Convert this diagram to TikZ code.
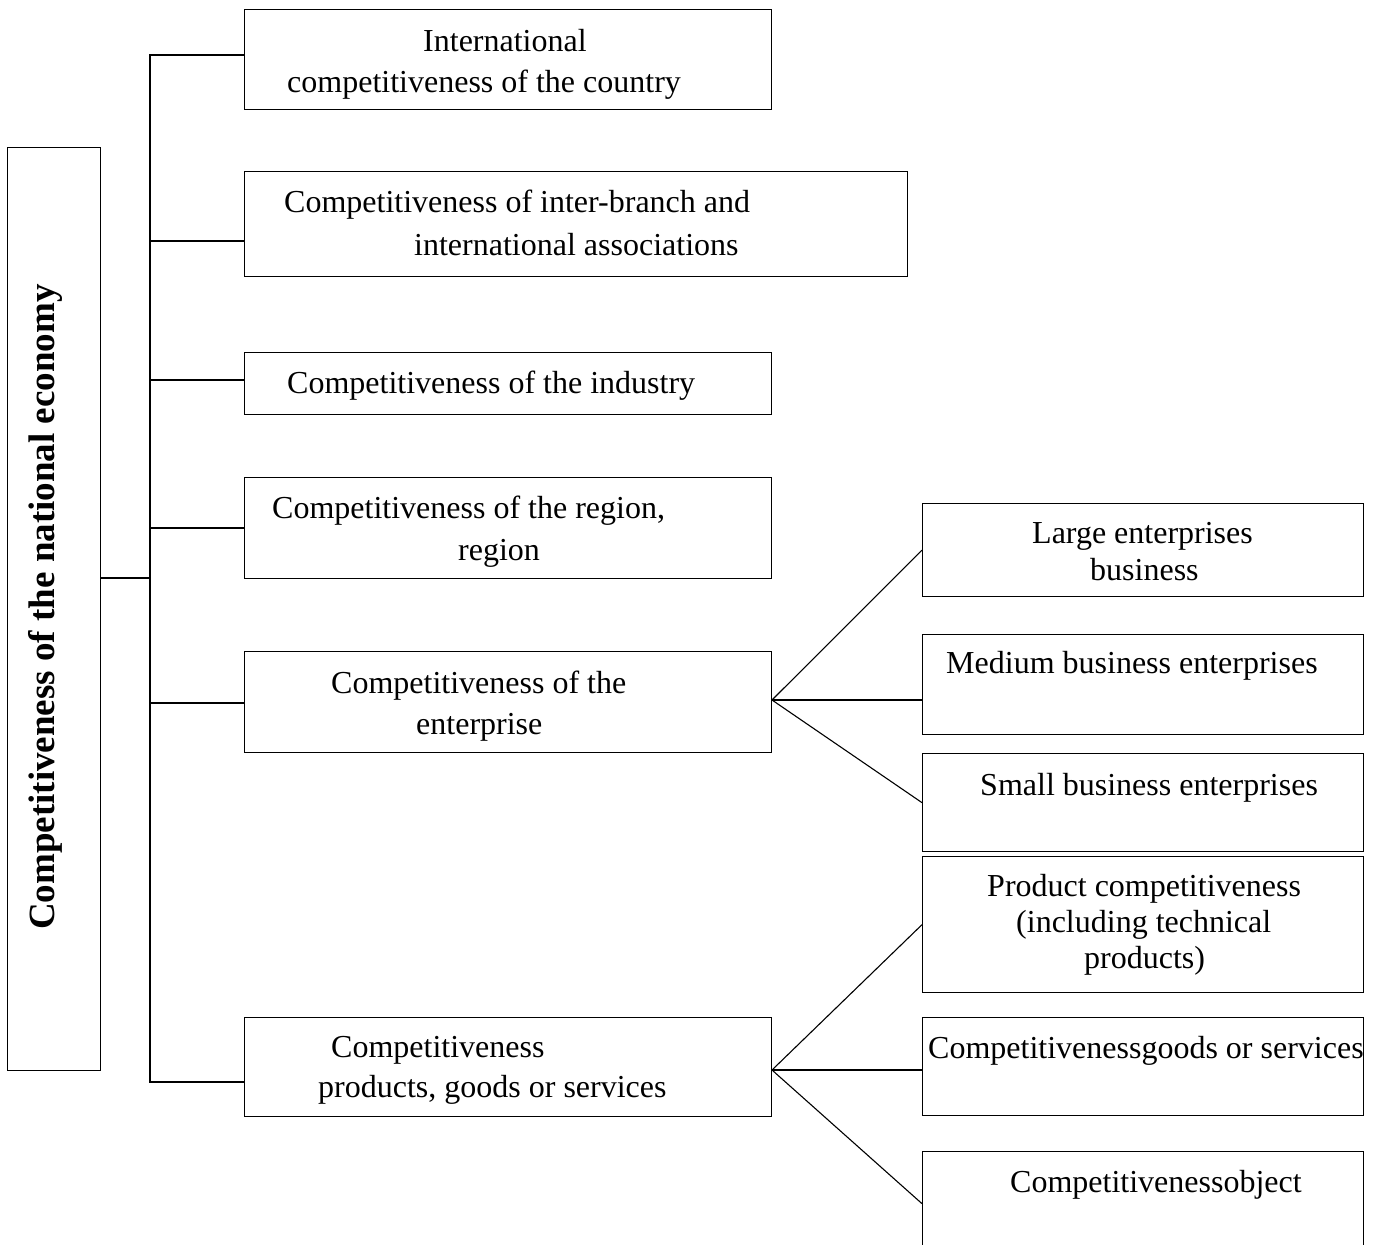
\documentclass[tikz,border=0pt]{standalone}
\usepackage{fontspec}
\setmainfont{Liberation Serif}
\begin{document}
\begin{tikzpicture}[x=1pt,y=-1pt,
  box/.style={draw=black,line width=1.3pt,rectangle,inner sep=0pt,anchor=north west},
  txt/.style={inner sep=0pt,anchor=base west,font=\fontsize{32}{38}\selectfont},
  conn/.style={draw=black,line width=1.1pt}]
\useasboundingbox (0,0) rectangle (1377,1245);
% left vertical box
\node[box,minimum width=93pt,minimum height=923pt] (L) at (7,147) {};
\node[inner sep=0pt,anchor=base west,rotate=90,font=\fontsize{37}{44}\selectfont\bfseries] (Lt) at (54,930) {Competitiveness of the national economy};
% middle boxes
\node[box,minimum width=527pt,minimum height=100pt] (b1) at (244,9) {};
\node[box,minimum width=663pt,minimum height=105pt] (b2) at (244,171) {};
\node[box,minimum width=527pt,minimum height=62pt] (b3) at (244,352) {};
\node[box,minimum width=527pt,minimum height=101pt] (b4) at (244,477) {};
\node[box,minimum width=527pt,minimum height=101pt] (b5) at (244,651) {};
\node[box,minimum width=527pt,minimum height=99pt] (b6) at (244,1017) {};
% right boxes
\node[box,minimum width=441pt,minimum height=93pt] (r1) at (922,503) {};
\node[box,minimum width=441pt,minimum height=100pt] (r2) at (922,634) {};
\node[box,minimum width=441pt,minimum height=98pt] (r3) at (922,753) {};
\node[box,minimum width=441pt,minimum height=136pt] (r4) at (922,856) {};
\node[box,minimum width=441pt,minimum height=98pt] (r5) at (922,1017) {};
\node[box,minimum width=441pt,minimum height=104pt] (r6) at (922,1151) {};
% texts
\node[txt] (t1a) at (423,51) {International};
\node[txt] (t1b) at (287,92) {competitiveness of the country};
\node[txt] (t2a) at (284,212) {Competitiveness of inter-branch and};
\node[txt] (t2b) at (414,255) {international associations};
\node[txt] (t3a) at (287,393) {Competitiveness of the industry};
\node[txt] (t4a) at (272,518) {Competitiveness of the region,};
\node[txt] (t4b) at (458,560) {region};
\node[txt] (t5a) at (331,693) {Competitiveness of the};
\node[txt] (t5b) at (416,734) {enterprise};
\node[txt] (t6a) at (331,1057) {Competitiveness};
\node[txt] (t6b) at (318,1097) {products, goods or services};
\node[txt] (u1a) at (1032,543) {Large enterprises};
\node[txt] (u1b) at (1090,580) {business};
\node[txt] (u2a) at (946,673) {Medium business enterprises};
\node[txt] (u3a) at (980,795) {Small business enterprises};
\node[txt] (u4a) at (987,896) {Product competitiveness};
\node[txt] (u4b) at (1016,932) {(including technical};
\node[txt] (u4c) at (1084,968) {products)};
\node[txt] (u5a) at (928,1058) {Competitivenessgoods or services};
\node[txt] (u6a) at (1010,1192) {Competitivenessobject};
% connectors
\coordinate (jL) at (150,578);
\coordinate (y1) at (150,55);
\coordinate (y2) at (150,241);
\coordinate (y3) at (150,380);
\coordinate (y4) at (150,528);
\coordinate (y5) at (150,703);
\coordinate (y6) at (150,1082);
\draw[conn] (L.east |- jL) -- (jL);
\draw[conn] (y1 -| b1.west) -- (y1) -- (y6) -- (y6 -| b6.west);
\draw[conn] (y2) -- (y2 -| b2.west);
\draw[conn] (y3) -- (y3 -| b3.west);
\draw[conn] (y4) -- (y4 -| b4.west);
\draw[conn] (y5) -- (y5 -| b5.west);
\coordinate (eo) at (772,700);
\coordinate (po) at (772,1070);
\draw[conn] (eo) -- (r1.west);
\draw[conn] (eo) -- (eo -| r2.west);
\draw[conn] (eo) -- (r3.west);
\draw[conn] (po) -- (r4.west);
\draw[conn] (po) -- (po -| r5.west);
\draw[conn] (po) -- (r6.west);
\end{tikzpicture}
\end{document}
